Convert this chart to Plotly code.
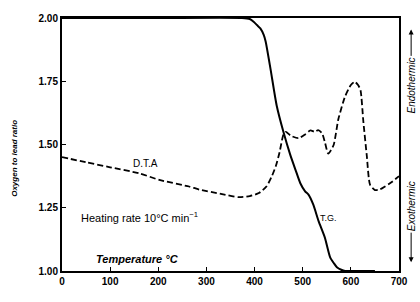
import plotly.graph_objects as go

# Thermogravimetric (T.G.) curve: temperature (°C) vs oxygen-to-lead ratio
tg_temp = [0, 200, 374, 390, 398, 405, 412, 419, 423, 433, 446, 460, 474, 485,
           495, 505, 512, 522, 533, 546, 557, 565, 571, 580, 588, 600, 650]
tg_ratio = [2.0, 2.0, 2.0, 1.996, 1.985, 1.972, 1.959, 1.933, 1.907, 1.80, 1.653,
            1.549, 1.46, 1.40, 1.347, 1.315, 1.302, 1.262, 1.197, 1.132, 1.054,
            1.03, 1.015, 1.005, 1.0, 1.0, 1.0]

# Differential thermal analysis (D.T.A) curve, plotted on same scale
dta_temp = [0, 50, 100, 161, 202, 264, 285, 330, 367, 390, 409, 425, 436, 445,
            452, 460, 465, 475, 491, 505, 516, 525, 532, 540, 546, 553, 564, 574,
            588, 600, 608, 615, 620, 626, 633, 640, 650, 660, 671, 685, 700]
dta_ratio = [1.45, 1.43, 1.41, 1.386, 1.36, 1.334, 1.322, 1.305, 1.292, 1.296,
             1.308, 1.335, 1.375, 1.42, 1.47, 1.54, 1.55, 1.535, 1.525, 1.54,
             1.556, 1.55, 1.557, 1.545, 1.51, 1.464, 1.497, 1.60, 1.69, 1.735,
             1.748, 1.735, 1.715, 1.59, 1.458, 1.34, 1.32, 1.322, 1.334, 1.352,
             1.375]

x_ticks = [0, 100, 200, 300, 400, 500, 600, 700]
y_ticks = [1.00, 1.25, 1.50, 1.75, 2.00]

FONT = "Liberation Sans"
fig = go.Figure()
fig.add_trace(go.Scatter(x=dta_temp, y=dta_ratio, mode="lines",
                         line=dict(color="black", width=1.8, dash="6px,3px", shape="spline", smoothing=0.6),
                         showlegend=False, hoverinfo="skip"))
fig.add_trace(go.Scatter(x=tg_temp, y=tg_ratio, mode="lines",
                         line=dict(color="black", width=2, shape="spline", smoothing=0.6),
                         showlegend=False, cliponaxis=False, hoverinfo="skip"))

fig.update_xaxes(range=[0, 700], tickvals=x_ticks, ticktext=[str(v) for v in x_ticks],
                 ticks="inside", ticklen=4, tickwidth=1, tickcolor="black",
                 showline=True, linecolor="black", linewidth=2, mirror=True,
                 showgrid=False, zeroline=False,
                 tickfont=dict(family=FONT, size=10, color="black", weight="bold"))
fig.update_yaxes(range=[1, 2], tickvals=y_ticks, ticktext=[f"{v:.2f}" for v in y_ticks],
                 ticks="inside", ticklen=4, tickwidth=1, tickcolor="black",
                 showline=True, linecolor="black", linewidth=2, mirror=True,
                 showgrid=False, zeroline=False,
                 tickfont=dict(family=FONT, size=10, color="black", weight="bold"))

fig.add_annotation(x=173, y=1.424, text="D.T.A", showarrow=False,
                   font=dict(family=FONT, size=10, color="black"))
fig.add_annotation(x=160, y=1.213, text="Heating rate 10°C min<sup>−1</sup>", showarrow=False,
                   font=dict(family=FONT, size=11, color="black"))
fig.add_annotation(x=553, y=1.21, text="T.G.", showarrow=False,
                   font=dict(family=FONT, size=9, color="black"))
fig.add_annotation(x=157, y=1.049, text="<b><i>Temperature °C</i></b>", showarrow=False,
                   font=dict(family=FONT, size=11, color="black"))
fig.add_annotation(xref="paper", yref="paper", x=-0.139, y=0.444,
                   xanchor="center", yanchor="middle",
                   text="<b><i>Oxygen to lead ratio</i></b>", textangle=-90,
                   showarrow=False, font=dict(family=FONT, size=8, color="black"))

# Right-hand side labels with arrows (head at x,y; text offset by ax, ay pixels)
fig.add_annotation(xref="paper", yref="paper", x=1.036, y=0.955,
                   text="<i>Endothermic</i>", textangle=-90,
                   showarrow=True, arrowhead=2, arrowsize=1, arrowwidth=1,
                   arrowcolor="black", ax=0, ay=56,
                   font=dict(family=FONT, size=10, color="black"))
fig.add_annotation(xref="paper", yref="paper", x=1.036, y=0.035,
                   text="<i>Exothermic</i>", textangle=-90,
                   showarrow=True, arrowhead=2, arrowsize=1, arrowwidth=1,
                   arrowcolor="black", ax=0, ay=-56,
                   font=dict(family=FONT, size=10, color="black"))

fig.update_layout(width=420, height=302, margin=dict(l=62, r=19, t=14, b=31),
                  paper_bgcolor="white", plot_bgcolor="white")
fig.write_html("out.html", config={"displayModeBar": False},
               post_script="document.body.style.margin='0';document.body.style.padding='0';")
